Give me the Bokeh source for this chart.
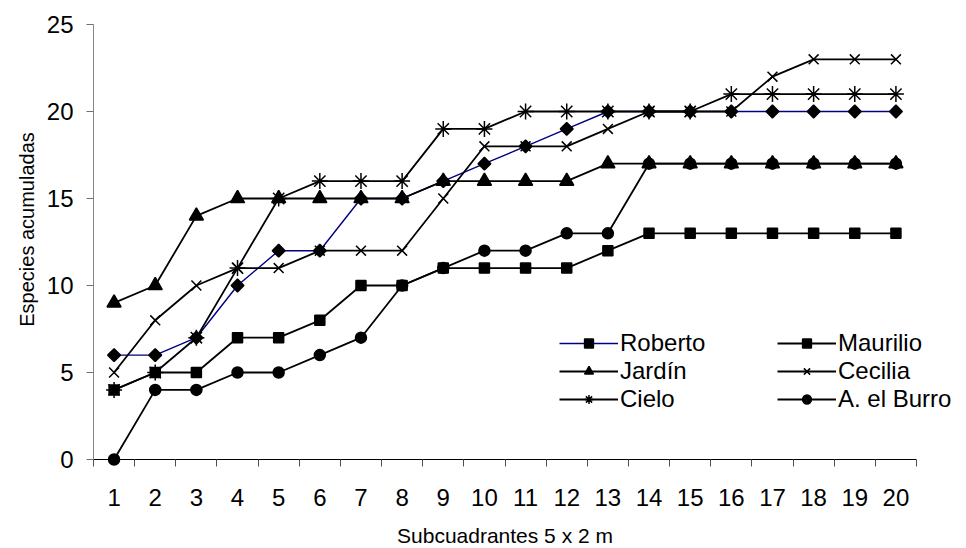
import math
from bokeh.plotting import figure
from bokeh.models import Range1d, FixedTicker, Legend, LegendItem, Label
from bokeh.embed import file_html
from bokeh.resources import INLINE

# ---- data ----
subcuadrantes = list(range(1, 21))
y_ticks = [0, 5, 10, 15, 20, 25]
x_bounds_ticks = [i + 0.5 for i in range(0, 21)]

roberto = [6, 6, 7, 10, 12, 12, 15, 15, 16, 17, 18, 19, 20, 20, 20, 20, 20, 20, 20, 20]
maurilio = [4, 5, 5, 7, 7, 8, 10, 10, 11, 11, 11, 11, 12, 13, 13, 13, 13, 13, 13, 13]
jardin = [9, 10, 14, 15, 15, 15, 15, 15, 16, 16, 16, 16, 17, 17, 17, 17, 17, 17, 17, 17]
cecilia = [5, 8, 10, 11, 11, 12, 12, 12, 15, 18, 18, 18, 19, 20, 20, 20, 22, 23, 23, 23]
cielo = [4, 5, 7, 11, 15, 16, 16, 16, 19, 19, 20, 20, 20, 20, 20, 21, 21, 21, 21, 21]
burro = [0, 4, 4, 5, 5, 6, 7, 10, 11, 12, 12, 13, 13, 17, 17, 17, 17, 17, 17, 17]

x_title = "Subcuadrantes 5 x 2 m"
y_title = "Especies acumuladas"

FONT = "Liberation Sans"

# frame covers the whole canvas; axes are placed with fixed_location + bounds
W, H = 966, 548
PX_LEFT, PX_RIGHT_UNITS = 93.0, 41.15   # x = 0.5 at px 93, 41.15 px per category
PY_ZERO, PY_UNIT = 459.0, 17.4          # y = 0 at px 459, 17.4 px per unit
x0 = 0.5 - PX_LEFT / PX_RIGHT_UNITS
x1 = 0.5 + (W - PX_LEFT) / PX_RIGHT_UNITS
y0 = -(H - PY_ZERO) / PY_UNIT
y1 = PY_ZERO / PY_UNIT

p = figure(width=W, height=H, output_backend="svg", toolbar_location=None,
           x_range=Range1d(x0, x1), y_range=Range1d(y0, y1),
           min_border=0, min_border_left=0, min_border_right=0,
           min_border_top=0, min_border_bottom=0)
p.outline_line_color = None
p.grid.visible = False
p.background_fill_color = "white"
p.border_fill_color = "white"

# x axis
xa = p.xaxis[0]
xa.fixed_location = 0
xa.bounds = (0.5, 20.5)
xa.ticker = FixedTicker(ticks=subcuadrantes, minor_ticks=x_bounds_ticks)
xa.major_tick_out = 0
xa.major_tick_in = 0
xa.minor_tick_out = 7
xa.minor_tick_in = 0
xa.axis_line_color = "black"
xa.axis_line_width = 1
xa.minor_tick_line_color = "#505050"
xa.major_label_text_font = FONT
xa.major_label_text_font_size = "24px"
xa.major_label_text_color = "black"
xa.major_label_standoff = 22

# y axis
ya = p.yaxis[0]
ya.fixed_location = 0.5
ya.bounds = (0, 25)
ya.ticker = FixedTicker(ticks=y_ticks)
ya.major_tick_out = 7
ya.major_tick_in = 0
ya.minor_tick_line_color = None
ya.axis_line_color = "#868686"
ya.major_tick_line_color = "#707070"
ya.major_label_text_font = FONT
ya.major_label_text_font_size = "24px"
ya.major_label_text_color = "black"
ya.major_label_standoff = 13

# axis titles
p.add_layout(Label(x=10.5, y=-(535 - PY_ZERO) / PY_UNIT, text=x_title,
                   text_font=FONT, text_font_size="21px", text_color="black",
                   text_align="center", text_baseline="middle"))
p.add_layout(Label(x=0.5 - (93 - 26) / PX_RIGHT_UNITS, y=(PY_ZERO - 229) / PY_UNIT,
                   text=y_title, angle=math.pi / 2,
                   text_font=FONT, text_font_size="20px", text_color="black",
                   text_align="center", text_baseline="middle"))

series = [
    ("Roberto", roberto, "#000080", 1.4, dict(marker="square", angle=math.pi / 4, size=9)),
    ("Maurilio", maurilio, "black", 1.8, dict(marker="square", size=10)),
    ("Jardín", jardin, "black", 1.8, dict(marker="triangle", size=14)),
    ("Cecilia", cecilia, "black", 1.8, dict(marker="x", size=14)),
    ("Cielo", cielo, "black", 1.8, dict(marker="asterisk", size=16)),
    ("A. el Burro", burro, "black", 1.8, dict(marker="circle", size=11)),
]

items = {}
for name, vals, lcol, lw, mk in series:
    lr = p.line(subcuadrantes, vals, line_color=lcol, line_width=lw)
    sr = p.scatter(subcuadrantes, vals, fill_color="black", line_color="black",
                   line_width=1.5, **mk)
    items[name] = LegendItem(label=name, renderers=[lr, sr])

common = dict(label_text_font=FONT, label_text_font_size="24px",
              label_text_color="black", glyph_width=59, glyph_height=22,
              label_height=22, label_standoff=2, padding=0, margin=0, spacing=0,
              border_line_color=None, background_fill_alpha=0)
leg1 = Legend(items=[items["Roberto"], items["Jardín"], items["Cielo"]],
              location=(559, 135), **common)
leg2 = Legend(items=[items["Maurilio"], items["Cecilia"], items["A. el Burro"]],
              location=(777, 135), **common)
p.add_layout(leg1)
p.add_layout(leg2)

open("out.html", "w").write(file_html(p, INLINE))
